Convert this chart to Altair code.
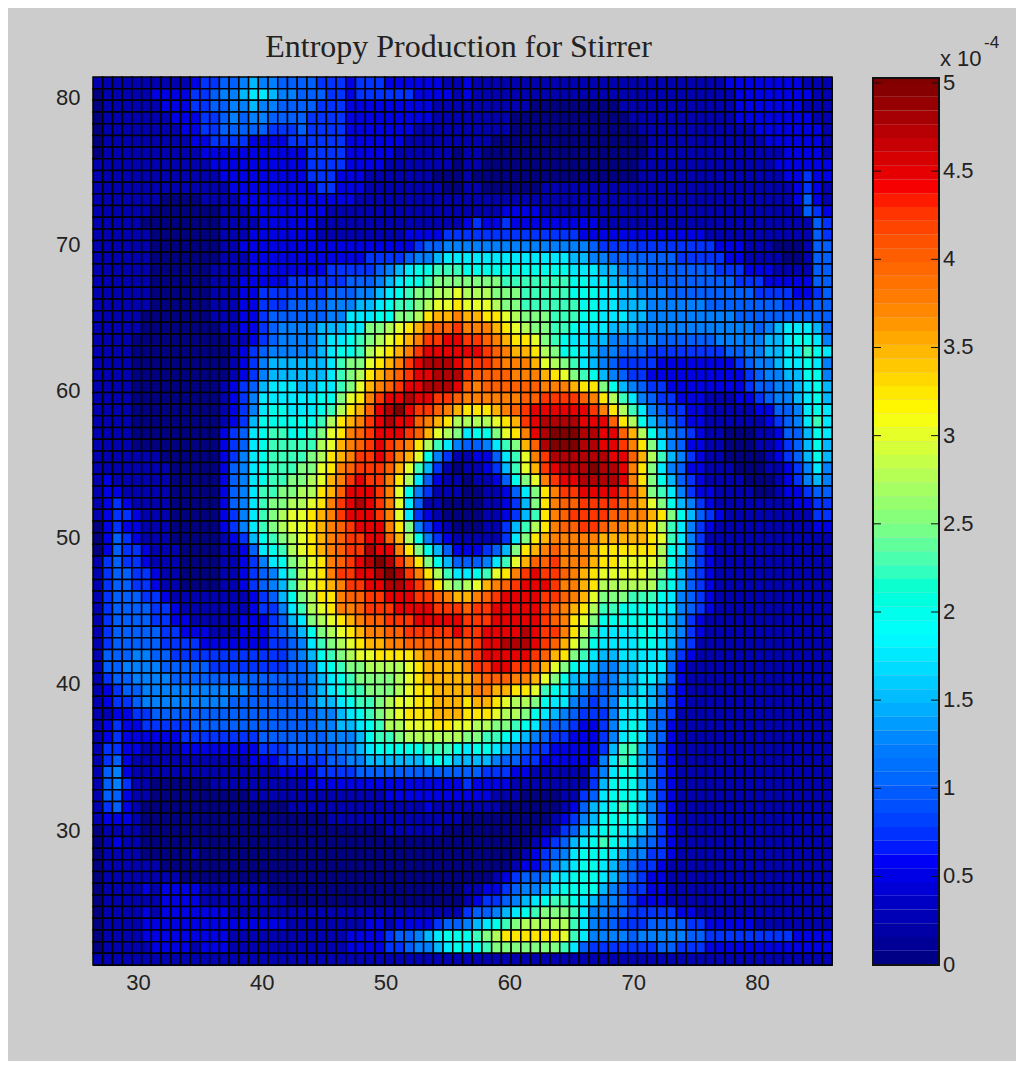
import altair as alt
import pandas as pd

TITLE = "Entropy Production for Stirrer"
X_TICKS = [30, 40, 50, 60, 70, 80]
Y_TICKS = [30, 40, 50, 60, 70, 80]
CB_TICKS = [0, 0.5, 1, 1.5, 2, 2.5, 3, 3.5, 4, 4.5, 5]
CB_LABELS = ["0", "0.5", "1", "1.5", "2", "2.5", "3", "3.5", "4", "4.5", "5"]
CB_DOMAIN = [-0.002, 5.034]
JET_STOPS = [0, 0.625, 1.25, 1.875, 2.5, 3.125, 3.75, 4.375, 5]
JET_COLORS = ["#000080", "#0000ff", "#0080ff", "#00ffff", "#80ff80", "#ffff00", "#ff8000", "#ff0000", "#800000"]
LEVEL_CHARS = "0123456789ABCDEFGHIJK"  # each step = 0.25e-4
X_RANGE = [26.37, 86.06]
Y_RANGE = [20.78, 81.43]

LEVELS = [
"1111111111 2334456554 4443332333 22222211 2111111111 1111111111 1111111222 22222111",
"0111112222 3345567765 5444332333 33322221 2111111111 1111111111 1111111122 22222211",
"0111111222 3344556554 4443332222 22222111 1111111000 0000001111 1111111122 22222111",
"0111111122 2334545544 4433332222 22222111 1111100000 0000000111 1111111122 22222211",
"0111111112 2334444433 3433332222 22211111 1111100000 0000000011 1111111111 22222221",
"0111111111 2233332222 3333332222 22111111 1110000000 0000000001 1111111111 12222221",
"0111111111 1222222222 2233332222 21111110 1100000000 0000000001 1111111111 11122221",
"1111111111 1122222222 2233332222 11111110 1100000000 0000000011 1111111111 11222222",
"1111111111 1112222222 2233322211 11111000 1000000000 0000000011 1111111111 11122322",
"1111111111 1111222222 2223322211 11111100 1100000011 1111111111 1111111111 11112321",
"1111111000 0111122222 2222222111 11111111 1111111111 1111111111 1111111111 11112421",
"1111110000 0001112222 2222111111 11111111 1111222211 1111111111 1111111111 11111432",
"1111100000 0001111222 2221111111 11111111 2322322222 2222111111 1111111111 11111143",
"1111110000 0001112222 2221111111 11222233 3333333333 3322222222 2222211111 11111143",
"1111110000 0001122222 2222222222 22234455 5555555555 5554333333 3333332221 11000144",
"1111110000 0001112222 2222222233 33455677 7777777777 7665544444 4433333221 11100144",
"1111110000 0011112222 2222333334 56788999 8888888888 8777665554 4444443332 22111144",
"1111110000 0011122222 3333334445 67889AAA AAAA999999 9887766554 4444444433 32222244",
"1111110000 0011122333 3333444556 789AABBC BBBAAA9999 9888776655 5444444444 33332234",
"1111110000 0011122333 4444555667 899ABCCD CCCBAA9999 9988776665 5555544444 44433344",
"1111100000 0011122344 4444557778 8AABDEEF EEDDCBAAA9 9988777665 5555555544 44444444",
"1111100000 0001122345 55566677AA BCDEFGGH FFFEDCBAA9 9877766655 5555555555 45677764",
"1111000000 0000112345 55567789AB CDEFHHII HHGFEDDCA9 8776655555 4444445555 56678875",
"1111000000 0000123455 55567889BC DEFHIIII IIHGFEEDBA 8876554443 3333333445 56677987",
"1111000000 0000123566 666679AACD EFHIJJJI HHHGFFFECB A976543333 2222222234 55677875",
"1111000000 0000123566 666679ABDE FGHIIJJJ HGGGGFFFED CA98654332 2222222223 45566885",
"1111000000 0001234677 766779ACEF GHIIJJJI GFGGGGGGFF FEDDA86543 3222222223 44556786",
"1111000000 0001235777 77788ACDFH IIJIIHHG FFFFFFGGHH HHGFDB9754 3322211122 34556786",
"1111000000 0001235788 77789BDEGI JKIHHGFE DDDEFGHIII IIIHFDB975 4332211111 22445787",
"1111000000 0001236888 8889BDEFHI JIIGFEDB BBBCDEHIJJ JJIIIGDB86 5432211111 12345797",
"1111000000 0002347899 889ACDFGHI IIHGECBA 788ACDFIJK KKJJIIGEB8 6543211000 11244687",
"1111000000 0002347899 999BCEFGHI HGFDB975 44579AEGJK KKJJIIHFDA 7542211000 11234686",
"1111111000 0002357899 99ABDEFHHI HFEC8531 122479CFHJ JJJJJIIGEB 9653211000 01234686",
"1111111100 0002457899 9AACDFGHHH GEC96310 112369CEHI JJJKJJIFDA 7542211100 01123575",
"1211111100 0002457899 AABCEFHIHH FDB74211 011248ACFH IIJJJJIFDA 8643211110 00123565",
"1221111100 000245799A ABBDEGIIIH FC853111 0011247ADF HHIIIIHGEA 9753221111 00122344",
"1232111100 00024579AA BBCDFHIJIH FC741100 0011236ADF GGHHHHGFEC A865321111 11112233",
"1233211100 00023579AB CCDEFHIIIH FC732100 00112369DF GHHHHGGFFE DA86432111 11111133",
"0232211100 00023579AB CCDEFGHIII FDA53210 0011369BDF GGHHGFFEED B975321111 11111122",
"0243211100 000123689A BCDEFGHHII GEB85321 111137ADEF FFFFEEEEED C975311111 11111111",
"0243321110 0001124789 BCDEFGHHJI IFDA8642 22346ADEFG FFFEDDDDDD B875321111 11111111",
"1343321110 0001123578 ABCDFGHIJK JHFDA864 44579CEGGH FFFEDDCCCC B865321111 11111111",
"1344332110 0001123457 9BCDFHHIIJ KJHFDB97 789CDFHIHH GFEDCCCCCB A864321111 11111111",
"1344332110 0001123456 9BCDEFHHII JJIHFDBA BCEFGHIIIH FFEDBBBBBB 9864321111 11111111",
"1344433211 1111112346 8ABDDFGGHH IIIHHGFE EFGHIIIIHH GFECAAA999 8754321111 11111111",
"1344443321 1111112335 79BCDFFGHH HIIIIHHH GHHIIIIIHG FEDB998888 7754321111 11111111",
"1344443322 1111122234 67ABCDEFGG HHHIIIII HHHIIIIIHG FDCA888888 7653211111 11111111",
"1344444332 2211122234 568ABCDEFF GGHHHHHI HHIIIIJIHH FDB9777788 7653211111 11111111",
"1344444333 3222222233 4579ABCDEE FFGGGGGG GHIIJJJIHG ECA8777788 7643111111 11111111",
"1444554433 3333333333 45689ABCCD DDDEFFFF GHIIIIIHGE DA97667777 7532111111 11111111",
"1445555444 4433333333 445789AABB BBCDEEEE FHHIIHHGEC A876556677 7421111111 11111111",
"1344555544 4444444444 4456789AAA ABCDEEEE EFGGGFFECA 8665456677 6421111111 11111111",
"1234455555 5555554444 44567899AA ABCDDEEE EFFEEDDC98 7654456676 5321111111 11111111",
"1233455555 5555444444 445667899A BCCDDEEE DEEDCBBA87 7543457776 5321111111 11111111",
"1122334444 4444444444 444556789A BCDDDEEE DDDCBBA876 5433357775 4311111111 11111111",
"1232233333 4444444444 4445566789 BBCCCDDC CBBAA98754 4322357875 4211111111 11111111",
"1232222223 3333333444 4444555689 9ABBBBBB AA99876543 3222357875 4211111111 11111111",
"1332211112 2222222333 4444455678 88889998 7887654332 2222369965 3211111111 11111111",
"1342111111 1111112223 3333445566 66667876 6665443322 2222579865 3211111111 11111111",
"1452111111 1111111112 2223333444 44444444 4433322111 1113578865 3211111111 11111111",
"1453110000 0011111111 1122222222 22222222 3222211111 1113688865 3211111111 11111111",
"1442110000 0000001111 1111111111 22222222 2221110000 1134788875 3211111111 11111111",
"1342100000 0000000000 1111111111 11112111 1111000000 1246789865 3211111111 11111111",
"1222100000 0000000000 0000111111 11111111 0000000001 2356888875 3211111111 11111111",
"0111100000 0000000000 0000000000 11111100 0000000011 3467887765 3211111111 11111111",
"0121100000 0000000000 0000000000 00000000 0000000123 4678987654 3211111111 11111111",
"0111100000 1000000000 0000000000 00000000 0000001234 5788876553 3211111111 11111111",
"0111111000 0000000000 0000000000 00000000 0000012235 6788765433 2111111111 11111111",
"0111111110 0000000000 0000000000 00000000 0001234457 7888765432 2111111111 11111111",
"0111121222 2111111100 0000000000 00000000 1122345567 8888654332 2111111111 11111111",
"0111111222 2111111111 0000000000 00000000 1233456789 9876554322 2111111111 11111111",
"0111121222 2222111111 1111111111 11111111 34456789AA A975544333 3322111111 11111111",
"0111122222 2222222222 1111111122 12222344 56789ABBBB B975443334 4443322222 11111111",
"0111122222 2222111111 1111112222 34456788 89ABDDDDDD C975555455 5554433333 33332222",
"0111112222 1222111111 1111112222 33455678 789AAAAAAA 9743333333 4433322222 22222222",
"1111111111 1111111111 1111111111 11111111 1111111111 1111111111 1111111111 11111111",
]

rows = [r.replace(" ", "") for r in LEVELS]
n_rows, n_cols = len(rows), len(rows[0])
dx = (X_RANGE[1] - X_RANGE[0]) / n_cols
dy = (Y_RANGE[1] - Y_RANGE[0]) / n_rows

records = []
for i, row in enumerate(rows):
    for j, ch in enumerate(row):
        records.append({
            "x": X_RANGE[0] + j * dx, "x2": X_RANGE[0] + (j + 1) * dx,
            "y": Y_RANGE[1] - (i + 1) * dy, "y2": Y_RANGE[1] - i * dy,
            "v": LEVEL_CHARS.index(ch) * 0.25,
        })
cells = pd.DataFrame(records)

jet = alt.Scale(domain=JET_STOPS, range=JET_COLORS, clamp=True)
LABEL_FONT = "Liberation Sans"
LABEL_SIZE = 22
LABEL_COLOR = "#222222"

heat = (
    alt.Chart(cells, title=alt.TitleParams(TITLE, font="Liberation Serif", fontSize=32, fontWeight="normal",
                                           color="#222222", anchor="middle", offset=12, dx=-4))
    .mark_rect(stroke="black", strokeWidth=1.5)
    .encode(
        x=alt.X("x:Q", scale=alt.Scale(domain=X_RANGE, nice=False, zero=False),
                axis=alt.Axis(values=X_TICKS, title=None, grid=False, ticks=False, domain=False, format="d",
                              labelFont=LABEL_FONT, labelFontSize=LABEL_SIZE, labelColor=LABEL_COLOR,
                              labelPadding=7, labelFlush=False)),
        x2="x2:Q",
        y=alt.Y("y:Q", scale=alt.Scale(domain=Y_RANGE, nice=False, zero=False),
                axis=alt.Axis(values=Y_TICKS, title=None, grid=False, ticks=False, domain=False, format="d",
                              labelFont=LABEL_FONT, labelFontSize=LABEL_SIZE, labelColor=LABEL_COLOR,
                              labelPadding=13, minExtent=40, maxExtent=40)),
        y2="y2:Q",
        color=alt.Color("v:Q", scale=jet, legend=None),
    )
    .properties(width=739, height=888)
)

CB_STEPS = [k * 5 / 64 for k in range(65)]
cb_df = pd.DataFrame({
    "a": [CB_DOMAIN[0]] + CB_STEPS[1:],
    "b": CB_STEPS[1:] + [CB_DOMAIN[1]],
    "c": [v + 2.5 / 64 for v in CB_STEPS[:-1]] + [5],
})
tick_df = pd.DataFrame({"t": CB_TICKS, "label": CB_LABELS})
t_scale = alt.Scale(domain=CB_DOMAIN, nice=False, zero=False)

bar = alt.Chart(cb_df).mark_rect().encode(
    y=alt.Y("a:Q", scale=t_scale, axis=None), y2="b:Q", color=alt.Color("c:Q", scale=jet, legend=None))
outline = alt.Chart(cb_df.head(1)).mark_rect(fill=None, stroke="#111111", strokeWidth=2).encode(
    x=alt.value(0), x2=alt.value(66), y=alt.value(1), y2=alt.value(888))
ticks_l = alt.Chart(tick_df).mark_rule(color="#111111", strokeWidth=1).encode(
    y=alt.Y("t:Q", scale=t_scale, axis=None), x=alt.value(0), x2=alt.value(8))
ticks_r = alt.Chart(tick_df).mark_rule(color="#111111", strokeWidth=1).encode(
    y=alt.Y("t:Q", scale=t_scale, axis=None), x=alt.value(58), x2=alt.value(66))
labels = alt.Chart(tick_df).mark_text(
    font=LABEL_FONT, fontSize=LABEL_SIZE, color=LABEL_COLOR, align="left", baseline="middle"
).encode(y=alt.Y("t:Q", scale=t_scale, axis=None), text="label:N", x=alt.value(70))
exp_x = alt.Chart(pd.DataFrame({"s": ["x 10"]})).mark_text(
    font=LABEL_FONT, fontSize=22, color=LABEL_COLOR, align="left", baseline="alphabetic"
).encode(text="s:N", x=alt.value(67), y=alt.value(-11))
exp_p = alt.Chart(pd.DataFrame({"s": ["-4"]})).mark_text(
    font=LABEL_FONT, fontSize=17, color=LABEL_COLOR, align="left", baseline="alphabetic"
).encode(text="s:N", x=alt.value(111), y=alt.value(-29))
cbar = alt.layer(bar, outline, ticks_l, ticks_r, labels, exp_x, exp_p).properties(width=66, height=888)

chart = (
    alt.hconcat(heat, cbar, spacing=37)
    .resolve_scale(color="independent")
    .properties(background="#cccccc",
                padding={"left": 44, "top": 22, "right": 16, "bottom": 67})
    .configure_view(stroke="black", strokeWidth=1)
)
chart.save("out.html", embed_options={"renderer": "svg", "actions": False})
